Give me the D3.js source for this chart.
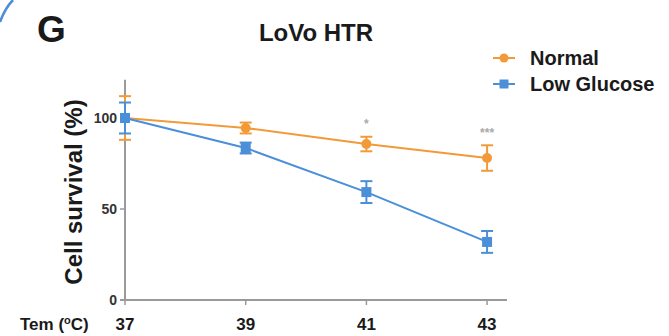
<!DOCTYPE html>
<html>
<head>
<meta charset="utf-8">
<script src="https://cdn.jsdelivr.net/npm/d3@7"></script>
<style>
  body { margin: 0; background: #fff; }
  text { font-family: "Liberation Sans", Arial, sans-serif; font-weight: bold; fill: #1a1a1a; }
</style>
</head>
<body>
<div id="chart"></div>
<script>
const temps = [37, 39, 41, 43];
const normalMean = [100, 94.5, 85.7, 78];
const normalErr = [12, 3, 4, 7];
const lowMean = [100, 83.5, 59.3, 31.9];
const lowErr = [8.5, 3, 6, 6];
const yTicks = [0, 50, 100];
const stars = [{ t: 41, label: "*", v: 98 }, { t: 43, label: "***", v: 93 }];
const seriesNames = ["Normal", "Low Glucose"];

const width = 669;
const height = 336;
const orange = "#f39a38";
const blue = "#4a8fd8";
const axisColor = "#9a9a9a";

const xScale = d3.scaleLinear().domain([37, 43.33]).range([125, 507]);
const yScale = d3.scaleLinear().domain([0, 100]).range([300, 118]);

const svg = d3.select("#chart").append("svg")
  .attr("width", width)
  .attr("height", height);

// decorative arc in the corner
svg.append("path")
  .attr("d", "M0,22 Q5,8 13,0")
  .attr("fill", "none")
  .attr("stroke", "#4d8fd6")
  .attr("stroke-width", 2.5);

svg.append("text")
  .attr("x", 37)
  .attr("y", 42)
  .attr("font-size", 37)
  .text("G");

svg.append("text")
  .attr("x", 316)
  .attr("y", 41)
  .attr("text-anchor", "middle")
  .attr("font-size", 24)
  .text("LoVo HTR");

// axes
svg.append("line")
  .attr("x1", xScale(37)).attr("x2", xScale(37))
  .attr("y1", yScale(0)).attr("y2", yScale(121))
  .attr("stroke", axisColor).attr("stroke-width", 2);

svg.append("line")
  .attr("x1", xScale(37) - 5).attr("x2", xScale(43.33))
  .attr("y1", yScale(0)).attr("y2", yScale(0))
  .attr("stroke", axisColor).attr("stroke-width", 2);

svg.selectAll(".ytick")
  .data(yTicks)
  .enter()
  .append("line")
  .attr("x1", xScale(37) - 5).attr("x2", xScale(37))
  .attr("y1", (d) => yScale(d)).attr("y2", (d) => yScale(d))
  .attr("stroke", axisColor).attr("stroke-width", 1.5);

svg.selectAll(".ylabel")
  .data(yTicks)
  .enter()
  .append("text")
  .attr("x", xScale(37) - 8)
  .attr("y", (d) => yScale(d))
  .attr("dy", "0.36em")
  .attr("text-anchor", "end")
  .attr("font-size", 14)
  .style("fill", "#333")
  .text((d) => d);

svg.selectAll(".xtick")
  .data(temps)
  .enter()
  .append("line")
  .attr("x1", (d) => xScale(d)).attr("x2", (d) => xScale(d))
  .attr("y1", yScale(0)).attr("y2", yScale(0) + 5)
  .attr("stroke", axisColor).attr("stroke-width", 1.5);

svg.selectAll(".xlabel")
  .data(temps)
  .enter()
  .append("text")
  .attr("x", (d) => xScale(d))
  .attr("y", 330)
  .attr("text-anchor", "middle")
  .attr("font-size", 17)
  .text((d) => d);

const tem = svg.append("text")
  .attr("x", 20)
  .attr("y", 330)
  .attr("font-size", 17);
tem.append("tspan").text("Tem (");
tem.append("tspan").attr("font-size", 11).attr("dy", -6).text("o");
tem.append("tspan").attr("dy", 6).text("C)");

svg.append("text")
  .attr("transform", `translate(82,192) rotate(-90)`)
  .attr("text-anchor", "middle")
  .attr("font-size", 24)
  .text("Cell survival (%)");

const line = d3.line()
  .x((d) => xScale(d.t))
  .y((d) => yScale(d.v));

function drawSeries(mean, err, color, square) {
  const pts = temps.map((t, i) => ({ t, v: mean[i], e: err[i] }));
  svg.append("path")
    .attr("d", line(pts))
    .attr("fill", "none")
    .attr("stroke", color)
    .attr("stroke-width", 2);

  const g = svg.append("g").selectAll("g").data(pts).enter().append("g");
  g.append("line")
    .attr("x1", (d) => xScale(d.t)).attr("x2", (d) => xScale(d.t))
    .attr("y1", (d) => yScale(d.v + d.e)).attr("y2", (d) => yScale(d.v - d.e))
    .attr("stroke", color).attr("stroke-width", 2);
  g.append("line")
    .attr("x1", (d) => xScale(d.t) - 6).attr("x2", (d) => xScale(d.t) + 6)
    .attr("y1", (d) => yScale(d.v + d.e)).attr("y2", (d) => yScale(d.v + d.e))
    .attr("stroke", color).attr("stroke-width", 2);
  g.append("line")
    .attr("x1", (d) => xScale(d.t) - 6).attr("x2", (d) => xScale(d.t) + 6)
    .attr("y1", (d) => yScale(d.v - d.e)).attr("y2", (d) => yScale(d.v - d.e))
    .attr("stroke", color).attr("stroke-width", 2);
  if (square) {
    g.append("rect")
      .attr("x", (d) => xScale(d.t) - 5).attr("y", (d) => yScale(d.v) - 5)
      .attr("width", 10).attr("height", 10)
      .attr("fill", color);
  } else {
    g.append("circle")
      .attr("cx", (d) => xScale(d.t)).attr("cy", (d) => yScale(d.v))
      .attr("r", 5)
      .attr("fill", color);
  }
}

drawSeries(normalMean, normalErr, orange, false);
drawSeries(lowMean, lowErr, blue, true);

svg.selectAll(".star")
  .data(stars)
  .enter()
  .append("text")
  .attr("x", (d) => xScale(d.t))
  .attr("y", (d) => yScale(d.v) + 6)
  .attr("text-anchor", "middle")
  .attr("font-size", 12)
  .attr("font-weight", "normal")
  .style("fill", "#aaa")
  .text((d) => d.label);

// legend
const legend = svg.append("g").attr("transform", "translate(493,58)");
seriesNames.forEach((name, i) => {
  const g = legend.append("g").attr("transform", `translate(0,${i * 26})`);
  const color = i === 0 ? orange : blue;
  g.append("line").attr("x1", 0).attr("x2", 22).attr("stroke", color).attr("stroke-width", 2);
  if (i === 0) {
    g.append("circle").attr("cx", 11).attr("r", 4.5).attr("fill", color);
  } else {
    g.append("rect").attr("x", 6.5).attr("y", -4.5).attr("width", 9).attr("height", 9).attr("fill", color);
  }
  g.append("text")
    .attr("x", 37)
    .attr("dy", "0.36em")
    .attr("font-size", 20)
    .text(name);
});
</script>
</body>
</html>
